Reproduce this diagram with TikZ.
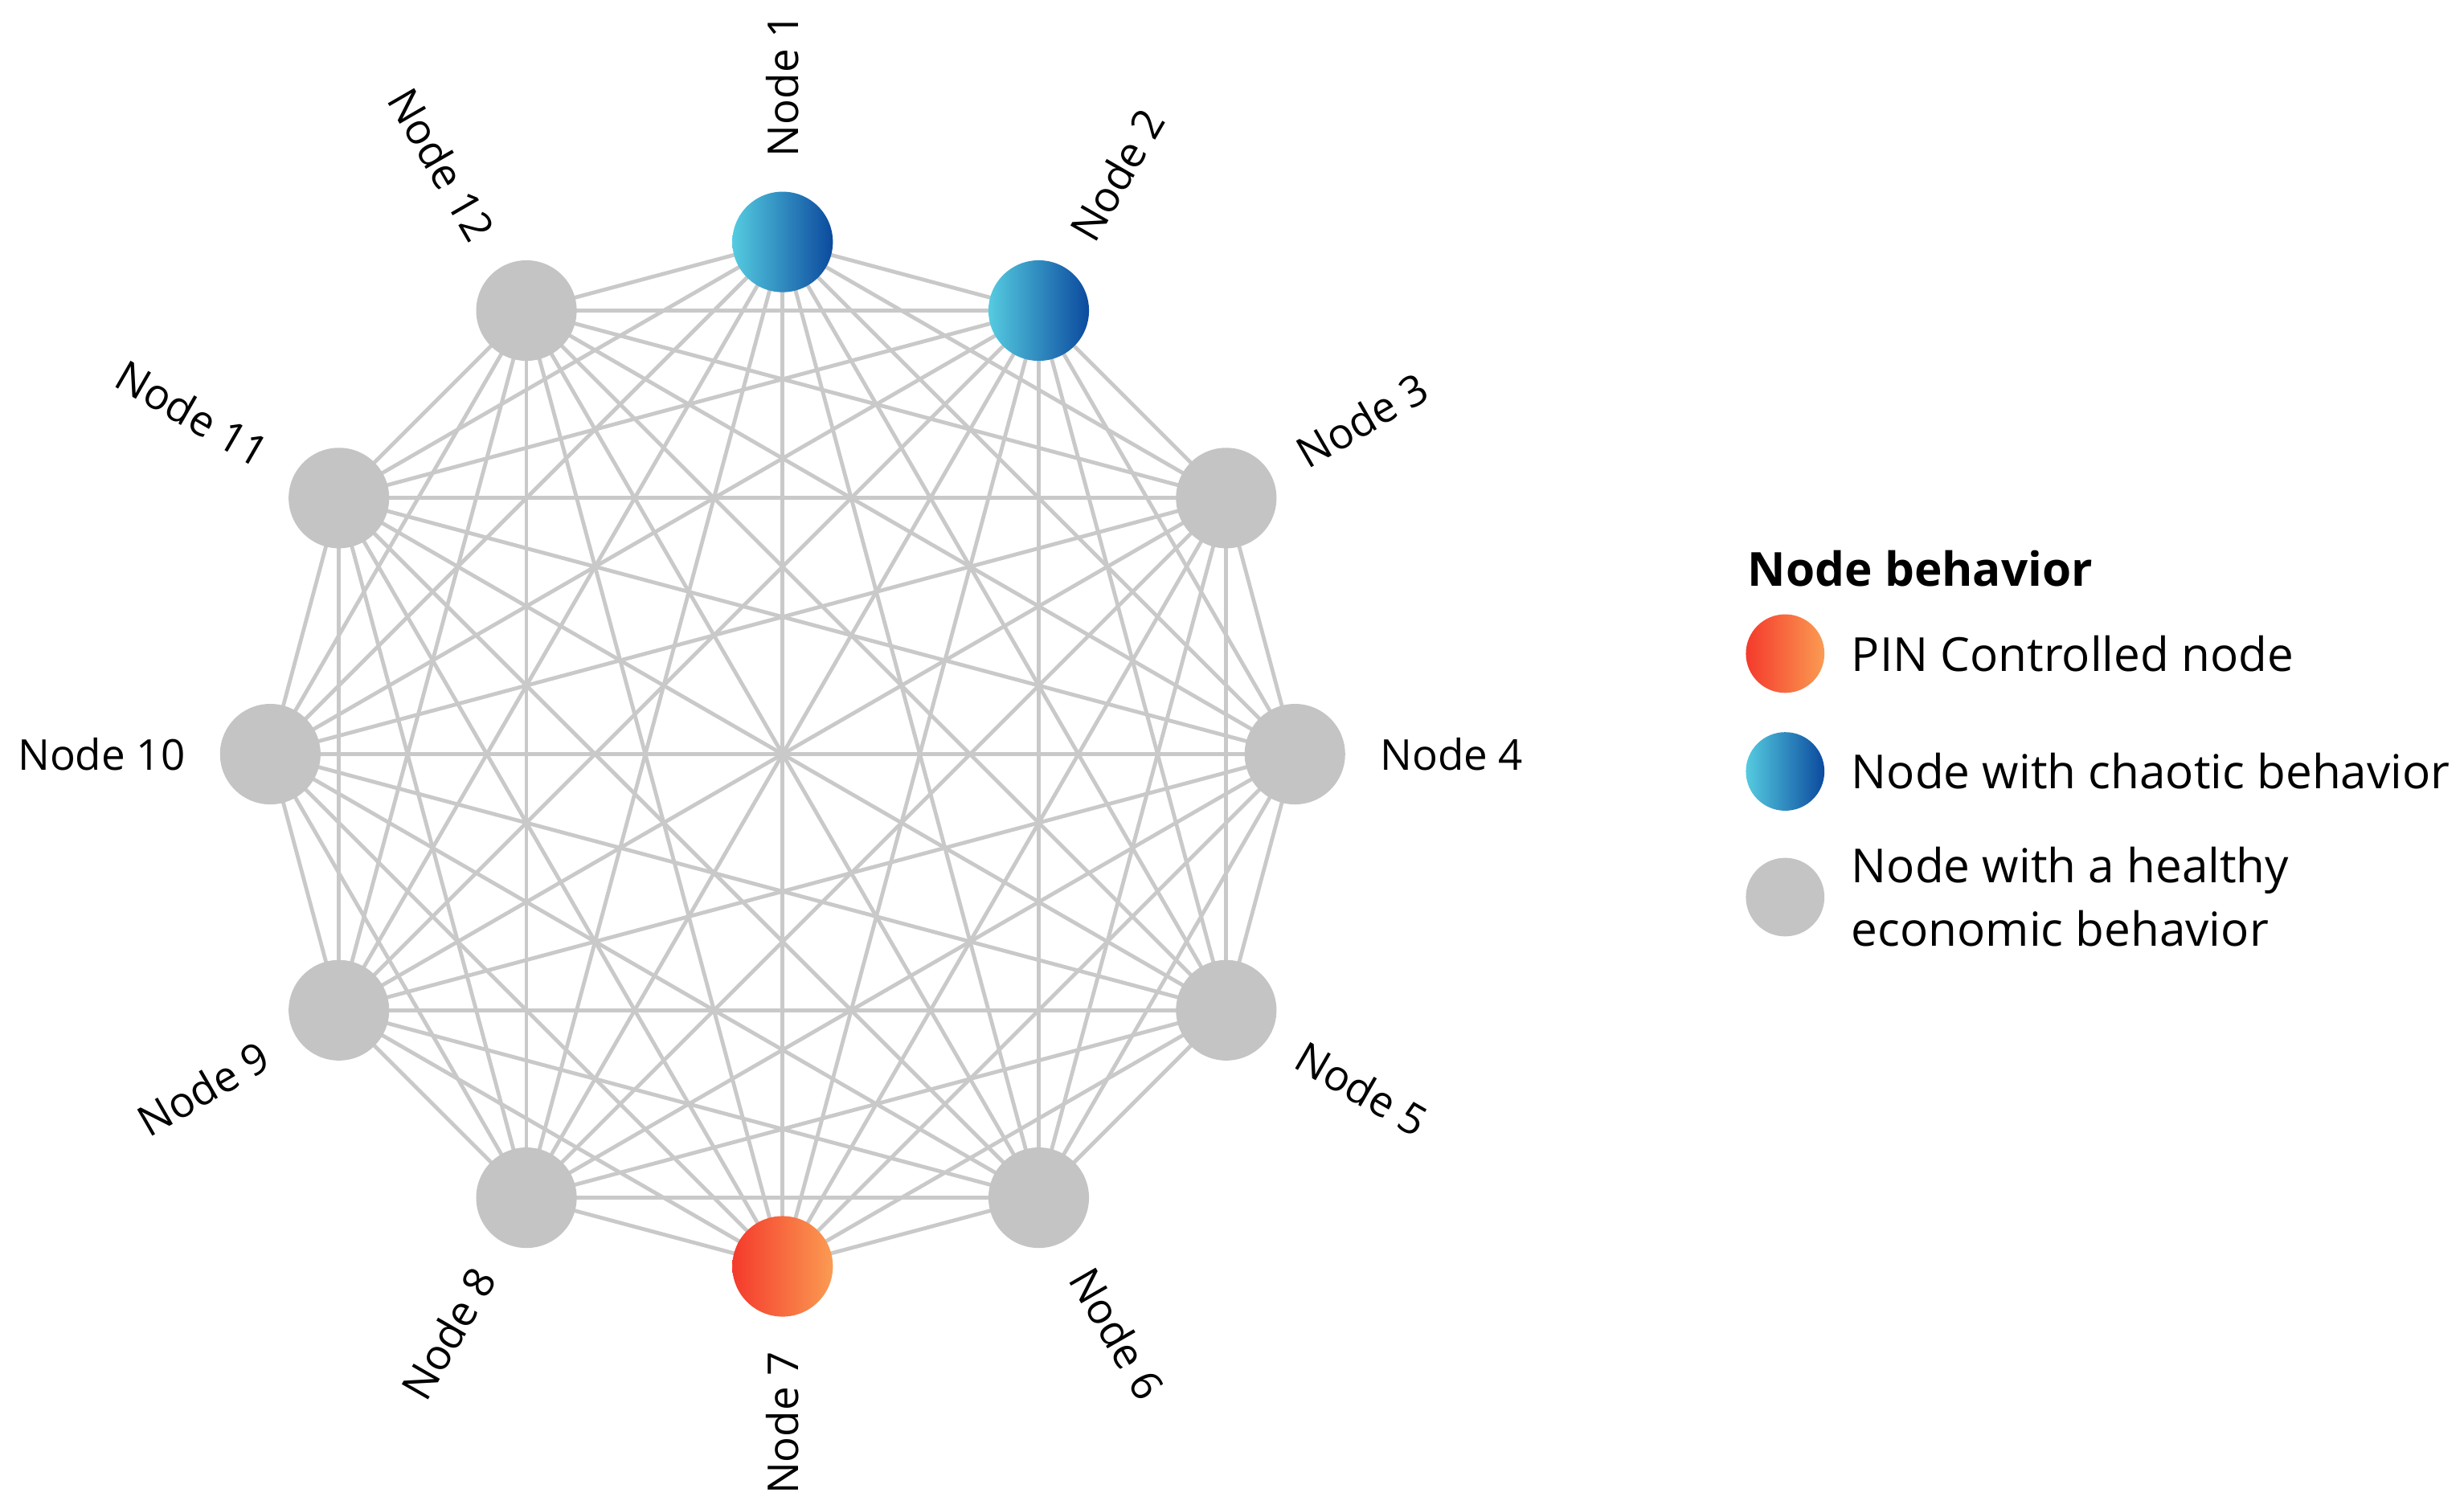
\documentclass[tikz,border=0pt]{standalone}
\usepackage{fontspec}
\setmainfont{Open Sans}
\usetikzlibrary{backgrounds,calc}
\definecolor{edge}{HTML}{C9C9C9}
\definecolor{healthy}{HTML}{C4C4C4}
\definecolor{cyanL}{HTML}{55CBE0}
\definecolor{blueD}{HTML}{0B4A9E}
\definecolor{redL}{HTML}{F43A2C}
\definecolor{orangeR}{HTML}{FB9B52}
\begin{document}
\begin{tikzpicture}[x=0.02cm,y=0.02cm,
  every node/.style={font=\fontsize{15.4}{19}\selectfont},
  leg/.style={font=\fontsize{17}{21}\selectfont},
  gnode/.style={circle,inner sep=0pt,minimum size=1.28cm,fill=healthy},
  bnode/.style={circle,inner sep=0pt,minimum size=1.28cm,left color=cyanL,right color=blueD},
  rnode/.style={circle,inner sep=0pt,minimum size=1.28cm,left color=redL,right color=orangeR},
  lgnd/.style={circle,inner sep=0pt,minimum size=1.0cm},
  conn/.style={draw=edge,line width=1.4pt}]
\useasboundingbox (0,0) rectangle (1568,960);
\coordinate (c) at (498,480);
\foreach \k in {1,...,12}{
  \pgfmathsetmacro{\a}{90-30*(\k-1)}
  \ifnum\k=1 \def\st{bnode}\else\ifnum\k=2 \def\st{bnode}\else\ifnum\k=7 \def\st{rnode}\else\def\st{gnode}\fi\fi\fi
  \node[\st] (n\k) at ($(c)+(\a:326)$) {};
}
\foreach \k in {1,...,12}{
  \pgfmathsetmacro{\a}{90-30*(\k-1)}
  \pgfmathtruncatemacro{\side}{(\a>-90)?1:0}
  \ifnum\side=1
    \node[anchor=west,rotate=\a] (l\k) at ($(c)+(\a:374)$) {Node \k};
  \else
    \pgfmathsetmacro{\r}{\a+180}
    \node[anchor=east,rotate=\r] (l\k) at ($(c)+(\a:374)$) {Node \k};
  \fi
}
\begin{scope}[on background layer]
\foreach \i in {1,...,12}{
  \foreach \j in {\i,...,12}{
    \ifnum\i<\j \draw[conn] (n\i.center) -- (n\j.center);\fi
  }
}
\end{scope}
% legend
\node[anchor=west,leg,font=\fontsize{17}{21}\selectfont\bfseries] (lt) at (1106,598) {Node behavior};
\node[lgnd,left color=redL,right color=orangeR] (lr) at (1136,544) {};
\node[anchor=west,leg] (tr) at (1172,544) {PIN Controlled node};
\node[lgnd,left color=cyanL,right color=blueD] (lb) at (1136,469) {};
\node[anchor=west,leg] (tb) at (1172,469) {Node with chaotic behavior};
\node[lgnd,fill=healthy] (lg) at (1136,389) {};
\node[anchor=west,align=left,leg] (tg) at (1172,389) {Node with a healthy\\[2pt]economic behavior};
\end{tikzpicture}
\end{document}
